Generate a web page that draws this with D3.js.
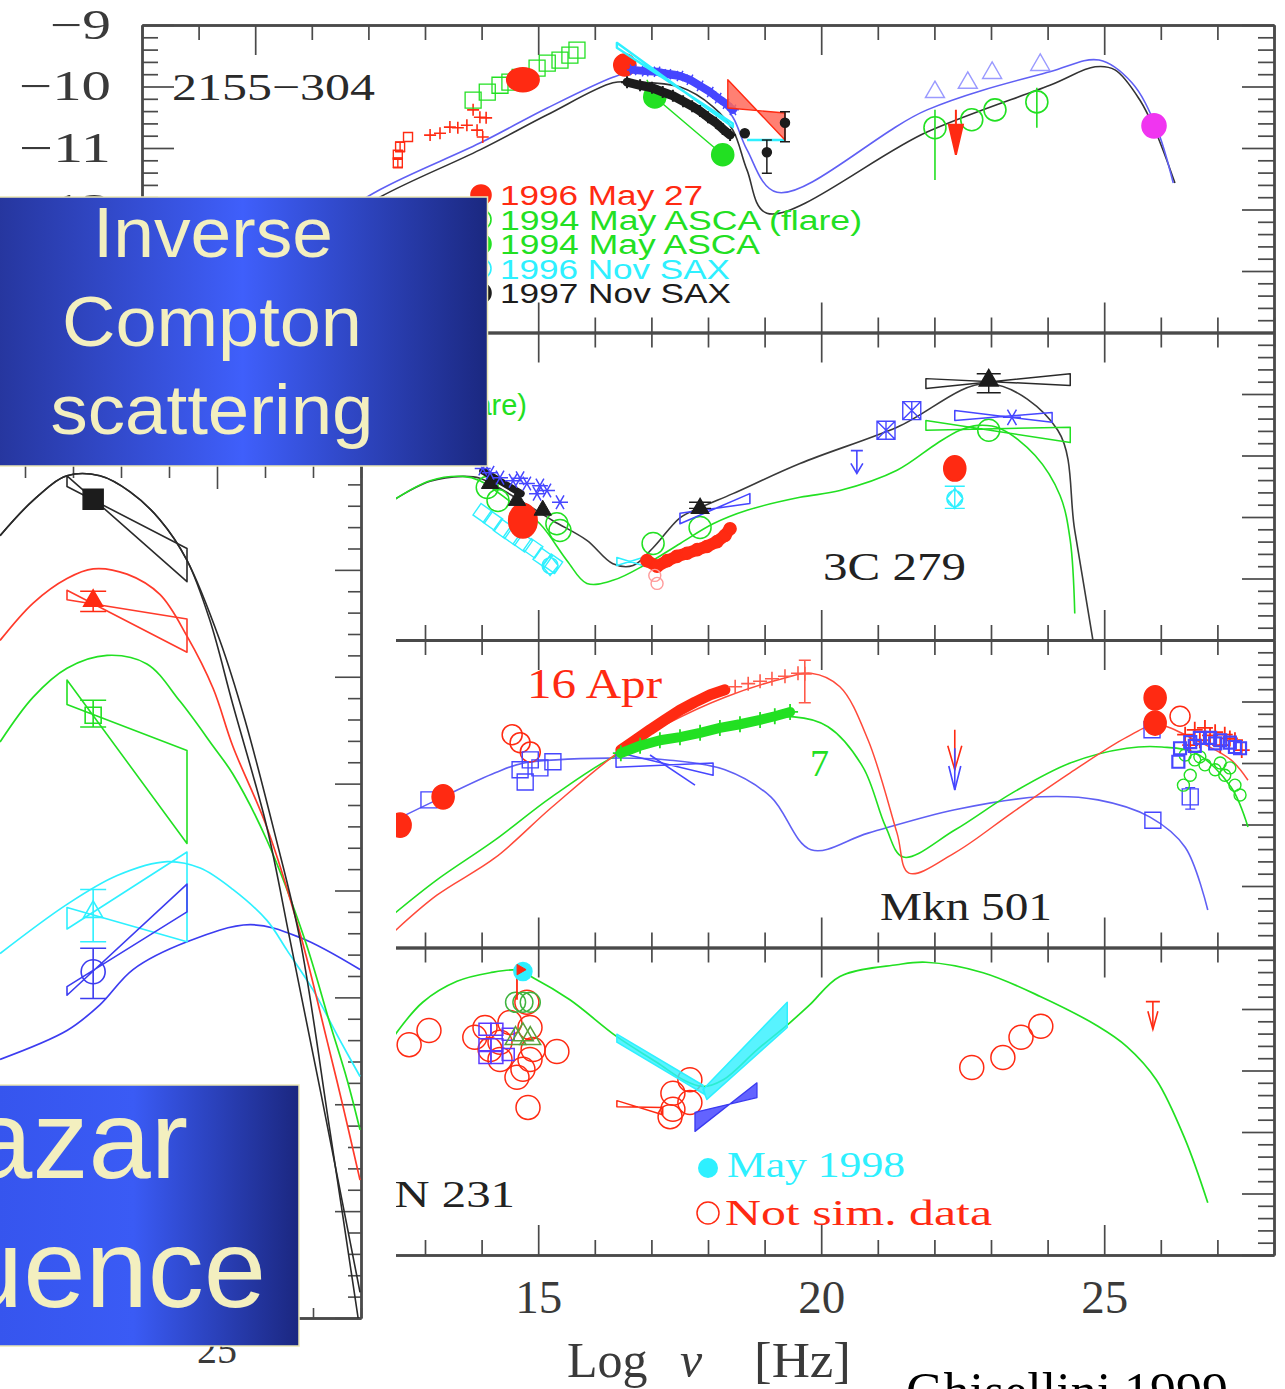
<!DOCTYPE html>
<html>
<head>
<meta charset="utf-8">
<title>Blazar SEDs – Inverse Compton scattering</title>
<script src="https://cdn.jsdelivr.net/npm/d3@7"></script>
<style>
  html, body { margin: 0; padding: 0; background: #fff; }
  svg { display: block; }
</style>
</head>
<body>
<div id="chart"></div>
<script>
// ================= DATA (log nu [Hz], log nuF_nu) =================

// ---- PKS 2155-304 ----
const pksModelHigh = [[10.79,-12.50],[12.20,-11.68],[13.97,-10.92],[15.16,-10.35],[16.32,-9.85],[16.675,-9.76],[17.51,-9.78],[18.09,-10.11],[18.44,-10.50],[18.69,-11.03],[19.22,-11.72],[21.87,-10.38],[24.04,-9.76],[24.91,-9.57],[25.49,-9.94],[25.92,-10.66],[26.22,-11.57]];
const pksModelLow = [[10.79,-12.61],[12.20,-11.80],[13.97,-11.03],[15.16,-10.46],[16.32,-9.94],[16.675,-9.93],[17.51,-10.01],[18.09,-10.33],[18.44,-10.71],[18.69,-11.36],[19.04,-12.06],[21.87,-10.74],[24.04,-9.98],[24.84,-9.68],[25.19,-9.73],[25.63,-10.22],[25.92,-10.76],[26.25,-11.57]];
const pksRedSquares = [[12.52,-11.24,-11.32,-11.16],[12.52,-11.11],[12.56,-10.98,-11.06,-10.90],[12.70,-10.82]];
const pksRedCrosses = [[13.09,-10.79],[13.265,-10.76],[13.44,-10.66],[13.58,-10.67],[13.74,-10.63],[13.92,-10.71],[14.02,-10.82],[13.85,-10.38],[13.97,-10.50],[14.08,-10.51]];
const pksGreenSquares = [[13.85,-10.22],[14.10,-10.09],[14.325,-9.98],[14.50,-9.93],[14.68,-9.85],[14.98,-9.70],[15.16,-9.62],[15.385,-9.57],[15.56,-9.49],[15.685,-9.41]];
const pksRedOptical = [[14.73,-9.89]];
const pksRedUV = [[16.53,-9.65]];
const pksCyanBow = {x0:16.39, y0:[-9.29,-9.37], x1:18.44, y1:[-10.60,-10.66]};
const pksCyanFlat = [[18.69,-10.87],[19.36,-10.87]];
const pksBlackBand = [[16.57,-9.93],[16.80,-9.98],[17.01,-10.02],[17.20,-10.09],[17.38,-10.15],[17.56,-10.24],[17.72,-10.32],[17.86,-10.40],[18.00,-10.50],[18.14,-10.59],[18.26,-10.69],[18.39,-10.79]];
const pksBlueBand = [[16.675,-9.73],[16.89,-9.75],[17.10,-9.76],[17.29,-9.80],[17.505,-9.83],[17.68,-9.89],[17.86,-9.99],[18.04,-10.09],[18.18,-10.19],[18.32,-10.28],[18.44,-10.38]];
const pksGreenAsca = [[16.92,-9.89],[17.06,-10.17],[18.26,-11.11]];
const pksRedBow = {x0:18.35, y0:[-9.89,-10.35], x1:19.36, y1:[-10.43,-10.87]};
const pksBlackSax = [[18.65,-10.76],[19.04,-11.07,-11.41,-10.87],[19.36,-10.59,-10.90,-10.41]];
const pksBlueGamma = [[22.01,-10.09],[22.59,-9.94],[23.02,-9.78],[23.87,-9.65]];
const pksGreenGamma = [[22.01,-10.67,-11.52,-10.38],[22.66,-10.54],[23.07,-10.38],[23.81,-10.25,-10.67,-10.02]];
const pksRedLimit = [[22.38,-10.38,-11.11]];
const pksTeV = [[25.88,-10.64]];
const pksLegend = ["1996 May 27","1994 May ASCA (flare)","1994 May ASCA","1996 Nov SAX","1997 Nov SAX"];
const pksYLabels = [-9,-10,-11,-12];

// ---- 3C 279 ----
const c279ModelHigh = [[12.47,-11.71],[13.09,-11.42],[13.67,-11.34],[13.97,-11.37],[14.68,-11.73],[15.26,-12.06],[15.86,-12.38],[16.32,-12.76],[16.675,-12.79],[17.03,-12.50],[17.51,-12.01],[17.86,-11.85],[18.44,-11.62],[19.625,-11.13],[21.34,-10.54],[22.96,-9.83],[24.18,-10.59],[24.48,-12.22],[24.80,-14.0]];
const c279ModelLow = [[12.47,-11.71],[13.09,-11.41],[13.67,-11.34],[13.97,-11.41],[14.55,-11.78],[15.03,-12.11],[15.51,-12.71],[15.86,-13.08],[16.32,-13.03],[16.92,-12.76],[17.51,-12.43],[18.09,-12.11],[18.69,-11.89],[19.625,-11.68],[20.33,-11.57],[21.34,-11.24],[22.05,-10.80],[22.45,-10.59],[22.77,-10.51],[23.16,-10.56],[23.78,-11.00],[24.22,-11.65],[24.40,-12.38],[24.48,-13.57]];
const c279BlueStars = [[14.02,-11.21],[14.15,-11.28],[14.325,-11.36],[14.555,-11.41],[14.68,-11.37],[14.80,-11.455],[15.03,-11.49],[15.155,-11.57],[14.98,-11.62],[15.385,-11.76]];
const c279BlackTri = [[14.15,-11.455],[14.625,-11.73],[15.08,-11.89]];
const c279GreenRings = [[14.10,-11.52],[14.29,-11.73],[15.33,-12.11],[15.385,-12.22],[17.03,-12.43],[17.86,-12.17],[22.96,-10.59]];
const c279RedOptical = [[14.73,-12.06]];
const c279CyanUV = [[14.02,-11.94],[14.20,-12.06],[14.38,-12.19],[14.555,-12.30],[14.73,-12.41],[14.91,-12.51],[15.08,-12.66],[15.26,-12.76]];
const c279CyanRing = [[15.21,-12.79]];
const c279CyanBow = {x0:16.39, y0:[-12.66,-12.79], x1:16.85, y1:[-12.66,-12.79]};
const c279RedXray = [[16.92,-12.71],[17.10,-12.80],[17.28,-12.71],[17.45,-12.64],[17.63,-12.59],[17.81,-12.53],[17.98,-12.48],[18.16,-12.40],[18.30,-12.30],[18.39,-12.19]];
const c279PinkRings = [[17.06,-12.95],[17.10,-13.08]];
const c279BlueXBow = {x0:17.505, y0:[-11.94,-12.11], x1:18.74, y1:[-11.62,-11.78]};
const c279BlackXray = [[17.86,-11.86,-11.86,-11.76]];
const c279BlueBoxes = [[21.145,-10.59],[21.60,-10.27]];
const c279BlueLimit = [[20.63,-10.92,-11.29]];
const c279BlackPeakBow = {x0:21.85, y0:[-9.75,-9.91], x1:24.40, y1:[-9.67,-9.86]};
const c279BluePeakBow = {x0:22.36, y0:[-10.27,-10.43], x1:24.08, y1:[-10.30,-10.46]};
const c279GreenPeakBow = {x0:21.85, y0:[-10.43,-10.59], x1:24.40, y1:[-10.54,-10.79]};
const c279BlackPeak = [[22.96,-9.78,-9.98,-9.67]];
const c279BluePeakStar = [[23.37,-10.38]];
const c279RedGamma = [[22.36,-11.21]];
const c279CyanGamma = [[22.36,-11.70,-11.86,-11.50]];

// ---- Mkn 501 ----
const mknModelFlare = [[12.47,-13.73],[13.21,-13.15],[14.24,-12.54],[15.24,-11.72],[16.46,-10.80],[17.28,-10.36],[18.30,-9.93],[19.31,-9.63],[19.82,-9.54],[20.33,-9.76],[20.83,-10.63],[21.34,-12.14],[21.55,-12.79],[22.36,-12.46],[23.37,-11.81],[24.40,-11.16],[25.40,-10.58],[25.92,-10.38],[26.62,-10.63],[27.24,-10.95],[27.54,-11.28]];
const mknModelHigh = [[12.47,-13.44],[13.21,-12.90],[14.24,-12.25],[15.24,-11.55],[16.46,-10.84],[17.28,-10.63],[18.30,-10.41],[19.52,-10.25],[20.12,-10.41],[20.74,-11.07],[21.14,-12.04],[21.45,-12.53],[22.36,-12.09],[23.37,-11.49],[24.40,-11.00],[25.40,-10.76],[26.02,-10.74],[26.62,-10.84],[27.24,-11.39],[27.54,-12.04]];
const mknModelLow = [[12.47,-11.93],[13.21,-11.60],[14.24,-11.16],[14.75,-11.00],[16.27,-10.92],[17.28,-10.95],[18.30,-11.11],[19.11,-11.55],[19.82,-12.41],[20.83,-12.14],[22.36,-11.76],[23.88,-11.55],[24.89,-11.60],[25.81,-11.88],[26.43,-12.37],[26.83,-13.39]];
const mknRedDots = [[12.56,-12.01],[13.32,-11.55],[25.90,-9.94],[25.90,-10.35]];
const mknBlueSquares = [[13.07,-11.60],[14.68,-11.11],[14.86,-10.95],[15.03,-11.08],[15.26,-10.98],[14.77,-11.31],[25.845,-10.46],[25.86,-11.93],[26.52,-11.55,-11.75,-11.40]];
const mknRedRings = [[14.54,-10.54],[14.68,-10.67],[14.86,-10.82],[26.34,-10.24]];
const mknRedBand = [[16.46,-10.79],[16.71,-10.63],[16.975,-10.46],[17.24,-10.30],[17.505,-10.14],[17.77,-10.01],[18.04,-9.89],[18.30,-9.81]];
const mknRedXray = [[18.48,-9.76],[18.71,-9.71],[18.92,-9.67],[19.13,-9.63],[19.36,-9.59],[19.59,-9.54],[19.71,-9.55,-10.02,-9.33]];
const mknGreenBand = [[16.46,-10.84],[16.80,-10.72],[17.15,-10.63],[17.505,-10.58],[17.86,-10.51],[18.21,-10.43],[18.565,-10.37],[18.92,-10.30],[19.18,-10.24],[19.45,-10.17]];
const mknBlueBow = {x0:16.375, y0:[-10.82,-11.07], x1:18.09, y1:[-11.00,-11.20]};
const mknBlueSlope = [[16.975,-10.87],[17.77,-11.36]];
const mknRedLimit = [[22.36,-10.46,-11.11]];
const mknBlueLimit = [[22.36,-10.76,-11.44]];
const mknRedTeV = [[26.43,-10.54],[26.60,-10.46],[26.78,-10.43],[26.96,-10.50],[27.13,-10.54],[27.31,-10.63],[27.43,-10.79],[26.52,-10.71],[26.69,-10.63],[27.05,-10.71],[26.87,-10.55],[27.22,-10.60]];
const mknBlueTeV = [[26.34,-10.76],[26.52,-10.66],[26.69,-10.59],[26.87,-10.59],[27.05,-10.63],[27.22,-10.67],[27.40,-10.76],[26.31,-10.98],[26.60,-10.72],[26.96,-10.68],[27.31,-10.74]];
const mknGreenTeV = [[26.43,-10.87],[26.60,-10.95],[26.78,-11.03],[26.96,-11.11],[27.13,-11.20],[27.31,-11.36],[26.40,-11.36],[26.52,-11.20],[27.40,-11.52],[26.69,-10.90],[27.05,-11.00],[27.22,-11.08]];

// ---- ON 231 ----
const on231Model = [[12.47,-10.42],[12.96,-9.89],[13.565,-9.55],[14.15,-9.41],[14.625,-9.37],[14.91,-9.49],[15.56,-9.85],[16.39,-10.45],[17.10,-10.87],[17.56,-11.15],[17.91,-11.26],[18.27,-11.15],[18.87,-10.66],[19.45,-10.22],[19.80,-9.93],[20.33,-9.47],[21.34,-9.28],[21.85,-9.24],[22.86,-9.41],[23.88,-9.80],[24.89,-10.28],[25.40,-10.61],[25.92,-11.15],[26.43,-12.12],[26.83,-13.15]];
const on231CyanDot = [[14.73,-9.39]];
const on231RedFlag = [[14.625,-9.44],[14.625,-9.85]];
const on231RedTop = [[14.68,-9.36]];
const on231RedRings = [[12.72,-10.58],[13.07,-10.35],[13.88,-10.46],[14.06,-10.30],[14.15,-10.66],[14.325,-10.82],[14.625,-11.11],[14.73,-10.98],[14.855,-10.82],[14.91,-10.66],[14.855,-10.30],[15.33,-10.69],[14.80,-9.89],[14.50,-10.22],[14.325,-10.54],[14.82,-11.60],[17.68,-11.15],[17.38,-11.37],[17.38,-11.63],[17.68,-11.52],[17.33,-11.75],[22.66,-10.95],[23.21,-10.79],[23.53,-10.46],[23.88,-10.28]];
const on231BlueSquares = [[14.06,-10.33],[14.27,-10.33],[14.06,-10.58],[14.27,-10.58],[14.06,-10.79],[14.27,-10.79],[14.47,-10.41],[14.47,-10.74]];
const on231GreenRings = [[14.60,-9.89],[14.73,-9.89],[14.86,-9.89]];
const on231GreenTri = [[14.60,-10.48],[14.73,-10.42],[14.86,-10.48]];
const on231CyanBand = [[16.39,-10.41],[17.91,-11.24],[17.945,-11.39],[16.39,-10.54]];
const on231CyanWedge = [[17.91,-11.31],[19.40,-9.89],[19.40,-10.30],[17.98,-11.47]];
const on231BlueBow = {x0:17.77, y0:[-11.68,-11.99], x1:18.865, y1:[-11.20,-11.44]};
const on231RedBow = {x0:16.39, y0:[-11.49,-11.59], x1:17.20, y1:[-11.60,-11.72]};
const on231RedLimit = [[25.86,-9.88,-10.33]];

// ---- Blazar sequence (Compton hump), log nu vs log nuL_nu ----
const seqBlackA = [[20.48,45.32],[21.17,45.65],[21.875,45.88],[22.56,45.88],[23.19,45.73],[23.81,45.47],[24.375,45.09],[24.85,44.53],[25.33,43.74],[26.04,42.59],[26.52,41.54],[27.17,40.09],[27.98,38.24]];
const seqBlackB = [[20.48,45.32],[21.17,45.65],[21.875,45.88],[22.56,45.88],[23.19,45.73],[23.81,45.47],[24.375,45.09],[25.06,44.34],[25.58,43.60],[26.21,42.52],[26.73,41.54],[27.35,39.76],[27.94,38.0]];
const seqRed = [[20.48,44.34],[21.17,44.69],[21.875,44.92],[22.42,45.01],[23.125,44.96],[23.81,44.77],[24.375,44.38],[24.92,43.89],[25.33,43.35],[26.04,42.59],[26.73,41.60],[27.29,40.60],[27.625,39.98],[27.98,39.29]];
const seqGreen = [[20.48,43.39],[21.17,43.81],[21.875,44.08],[22.71,44.20],[23.54,44.12],[24.23,43.77],[24.92,43.35],[25.33,43.09],[26.04,42.47],[26.83,41.54],[27.35,40.76],[27.71,40.23],[27.98,39.76]];
const seqCyan = [[20.48,41.41],[21.875,41.87],[22.92,42.14],[23.96,42.27],[24.65,42.21],[25.33,42.01],[26.04,41.72],[26.46,41.44],[27.0,41.07],[27.56,40.60],[27.98,40.26]];
const seqBlue = [[20.48,40.42],[21.875,40.69],[22.56,40.93],[23.25,41.26],[24.375,41.52],[25.69,41.68],[26.73,41.56],[27.98,41.26]];
// average points with error bars [x, y, lo, hi]
const seqPtBlack = [[22.42,45.66]];
const seqPtRed = [[22.42,44.71,44.61,44.80]];
const seqPtGreen = [[22.42,43.64,43.53,43.78]];
const seqPtCyan = [[22.42,41.80,41.52,42.01]];
const seqPtBlue = [[22.42,41.24,40.99,41.46]];
const seqBowBlack = {x0:21.875, y0:[45.88,45.78], x1:24.375, y1:[45.20,44.89]};
const seqBowRed = {x0:21.875, y0:[44.81,44.72], x1:24.375, y1:[44.54,44.23]};
const seqBowGreen = {x0:21.875, y0:[43.97,43.74], x1:24.375, y1:[43.31,42.44]};
const seqBowCyan = {x0:21.875, y0:[41.84,41.64], x1:24.375, y1:[42.36,41.52]};
const seqBowBlue = {x0:21.875, y0:[41.10,41.02], x1:24.375, y1:[42.06,41.80]};

const xTickLabels = [15, 20, 25];

// ================= DRAWING =================
const W = 1285, H = 1389;
const COL = {red:"#ff2a12", green:"#22e022", cyan:"#2ef0ff", blue:"#4646ff", model:"#6060f4",
             black:"#1c1c1c", magenta:"#f035f0", axis:"#4a4a4a", pink:"#ff9a9a"};
const SANS = "'Liberation Sans', Arial, Helvetica, sans-serif";
const SERIF = "'Liberation Serif', 'Times New Roman', 'DejaVu Serif', serif";

const svg = d3.select("#chart").append("svg").attr("width", W).attr("height", H)
  .attr("viewBox", `0 0 ${W} ${H}`);
const defs = svg.append("defs");

// right-hand stack of four SED panels
const x = d3.scaleLinear().domain([8, 28]).range([142, 1274]);
const PH = 307.5;
const panelTop = [25, 332.5, 640, 947.5];
const ys = panelTop.map(t => d3.scaleLinear().domain([-14, -9]).range([t + PH, t]));
const CUT = 396;

panelTop.forEach((t, i) => {
  const x0 = i === 0 ? 142 : CUT;
  defs.append("clipPath").attr("id", `plot${i}`).append("rect")
    .attr("x", x0).attr("y", t).attr("width", 1274 - x0).attr("height", PH);
});
defs.append("clipPath").attr("id", "frameCut").append("rect")
  .attr("x", CUT).attr("y", 0).attr("width", W).attr("height", H);

// ---------- helpers ----------
function sym(type, r) {
  switch (type) {
    case "circle": return d3.symbol(d3.symbolCircle, Math.PI * r * r)();
    case "square": return d3.symbol(d3.symbolSquare, 4 * r * r)();
    case "triangle": return d3.symbol(d3.symbolTriangle, 1.3 * r * r)();
    case "plus": return `M${-r},0H${r}M0,${-r}V${r}`;
    case "times": { const k = r * 0.72; return `M${-k},${-k}L${k},${k}M${-k},${k}L${k},${-k}`; }
    case "star": { const k = r * 0.866; return `M${-r},0H${r}M${-r/2},${-k}L${r/2},${k}M${-r/2},${k}L${r/2},${-k}`; }
    case "boxx": { return `M${-r},${-r}H${r}V${r}H${-r}ZM${-r},${-r}L${r},${r}M${-r},${r}L${r},${-r}M0,${-r}V${r}`; }
    case "ringdiamond": { return d3.symbol(d3.symbolCircle, Math.PI * r * r)() + `M0,${-r*1.25}L${r},0L0,${r*1.25}L${-r},0Z`; }
  }
}
function lineGen(sx, sy, smooth) {
  const l = d3.line().x(d => sx(d[0])).y(d => sy(d[1]));
  return smooth ? l.curve(d3.curveCatmullRom.alpha(0.5)) : l;
}
function curve(g, data, sx, sy, color, w) {
  g.append("path").datum(data).attr("d", lineGen(sx, sy, true))
    .attr("fill", "none").attr("stroke", color).attr("stroke-width", w || 1.6)
    .attr("stroke-linejoin", "round");
}
function polyline(g, data, sx, sy, color, w) {
  g.append("path").datum(data).attr("d", lineGen(sx, sy, false))
    .attr("fill", "none").attr("stroke", color).attr("stroke-width", w || 1.5);
}
function band(g, data, sx, sy, color, w) {
  g.append("path").datum(data).attr("d", lineGen(sx, sy, false))
    .attr("fill", "none").attr("stroke", color).attr("stroke-width", w)
    .attr("stroke-linecap", "round").attr("stroke-linejoin", "round");
}
function polygon(g, pts, sx, sy, o) {
  g.append("path").datum(pts).attr("d", d => lineGen(sx, sy, false)(d) + "Z")
    .attr("fill", o.fill || "none").attr("fill-opacity", o.fillOpacity ?? 1)
    .attr("stroke", o.color).attr("stroke-width", o.width || 1.5).attr("stroke-linejoin", "round");
}
function bowtie(g, b, sx, sy, o) {
  polygon(g, [[b.x0, b.y0[0]], [b.x1, b.y1[1]], [b.x1, b.y1[0]], [b.x0, b.y0[1]]], sx, sy, o);
}
function marks(g, data, sx, sy, o) {
  const w = o.width || 1.6;
  const grp = g.append("g").attr("stroke", o.color).attr("stroke-width", w)
    .attr("fill", o.fill ? o.color : "none").attr("stroke-linecap", "butt");
  grp.selectAll("path.err").data(data.filter(d => d.length >= 4)).join("path")
    .attr("class", "err").attr("fill", "none")
    .attr("d", d => {
      const px = sx(d[0]), a = sy(d[2]), b = sy(d[3]), c = o.cap || 0;
      return `M${px},${a}V${b}` + (c ? `M${px - c},${a}h${2 * c}M${px - c},${b}h${2 * c}` : "");
    });
  const sc = o.scale ? ` scale(${o.scale[0]},${o.scale[1]})` : "";
  grp.selectAll("path.mk").data(data).join("path").attr("class", "mk")
    .attr("transform", d => `translate(${sx(d[0])},${sy(d[1])})${o.rotate ? ` rotate(${o.rotate})` : ""}${sc}`)
    .attr("vector-effect", o.scale ? "non-scaling-stroke" : null)
    .attr("d", sym(o.shape, o.r));
}
function limits(g, data, sx, sy, o) {
  const grp = g.append("g").attr("stroke", o.color).attr("stroke-width", o.width || 1.8);
  grp.selectAll("path.shaft").data(data).join("path").attr("class", "shaft").attr("fill", "none")
    .attr("d", d => {
      const px = sx(d[0]), y0 = sy(d[1]), y1 = sy(d[2]);
      return `M${px},${y0}V${y1}` + (o.cap ? `M${px - o.cap},${y0}h${2 * o.cap}` : "");
    });
  grp.selectAll("path.head").data(data).join("path").attr("class", "head")
    .attr("fill", o.filled ? o.color : "none")
    .attr("d", d => {
      const px = sx(d[0]), y1 = sy(d[2]);
      return `M${px - o.hw},${y1 - o.hl}L${px},${y1}L${px + o.hw},${y1 - o.hl}` + (o.filled ? "Z" : "");
    });
}
function label(g, txt, px, py, o) {
  const t = g.append("text").attr("x", px).attr("y", py).text(txt)
    .attr("font-family", o.font || SERIF).attr("font-size", o.size).attr("fill", o.color || "#222")
    .attr("text-anchor", o.anchor || "start");
  if (o.len) t.attr("textLength", o.len).attr("lengthAdjust", "spacingAndGlyphs");
  if (o.italic) t.attr("font-style", "italic");
  return t;
}

// ---------- frames ----------
const xMajor = [10, 15, 20, 25];
const xMinor = d3.range(8, 29).filter(v => !xMajor.includes(v));
function drawFrame(i) {
  const t = panelTop[i], y = ys[i];
  const g = svg.append("g").attr("clip-path", i === 0 ? null : "url(#frameCut)");
  const yMajor = y.ticks(5);
  const yMinor = y.ticks(25).filter(v => Math.abs(v - Math.round(v)) > 1e-6);
  const add = (axis, tr, vals, len) => {
    const a = g.append("g").attr("transform", tr)
      .call(axis.tickValues(vals).tickSizeInner(-len).tickSizeOuter(0).tickFormat(""));
    a.selectAll("text").remove();
    a.selectAll("line").attr("stroke", COL.axis).attr("stroke-width", 1.7);
    a.select(".domain").attr("stroke", COL.axis).attr("stroke-width", 2.4);
  };
  add(d3.axisTop(x), `translate(0,${t})`, xMajor, 30);
  add(d3.axisTop(x), `translate(0,${t})`, xMinor, 15);
  add(d3.axisBottom(x), `translate(0,${t + PH})`, xMajor, 30);
  add(d3.axisBottom(x), `translate(0,${t + PH})`, xMinor, 15);
  add(d3.axisRight(y), `translate(1274,0)`, yMajor, 32);
  add(d3.axisRight(y), `translate(1274,0)`, yMinor, 16);
  if (i === 0) {
    add(d3.axisLeft(y), `translate(142,0)`, yMajor, 32);
    add(d3.axisLeft(y), `translate(142,0)`, yMinor, 16);
  }
}
[0, 1, 2, 3].forEach(drawFrame);

// ---------- panel 1 : PKS 2155-304 ----------
{
  const sy = ys[0];
  const g = svg.append("g").attr("clip-path", "url(#plot0)");
  curve(g, pksModelLow, x, sy, "#333", 1.6);
  curve(g, pksModelHigh, x, sy, COL.model, 1.6);
  marks(g, pksRedSquares, x, sy, {shape:"square", r:4.5, color:COL.red, width:1.4, cap:5});
  marks(g, pksRedCrosses, x, sy, {shape:"plus", r:6, color:COL.red, width:1.6});
  marks(g, pksGreenSquares, x, sy, {shape:"square", r:8, color:COL.green, width:1.3});
  marks(g, pksRedOptical, x, sy, {shape:"circle", r:12, color:COL.red, fill:true, width:0, scale:[1.35,1]});
  marks(g, pksRedUV, x, sy, {shape:"circle", r:11, color:COL.red, fill:true, width:0});
  polyline(g, pksGreenAsca, x, sy, COL.green, 1.4);
  marks(g, pksGreenAsca.slice(1), x, sy, {shape:"circle", r:11, color:COL.green, fill:true, width:0});
  band(g, pksBlackBand, x, sy, COL.black, 9);
  marks(g, pksBlackBand, x, sy, {shape:"plus", r:6, color:COL.black, width:2});
  band(g, pksBlueBand, x, sy, COL.blue, 8);
  marks(g, pksBlueBand, x, sy, {shape:"star", r:6, color:COL.blue, width:1.5});
  bowtie(g, pksCyanBow, x, sy, {color:COL.cyan, width:2.4});
  polyline(g, pksCyanFlat, x, sy, COL.cyan, 2.4);
  bowtie(g, pksRedBow, x, sy, {color:COL.red, width:1.4, fill:"#ff6a5a", fillOpacity:0.85});
  marks(g, pksBlackSax, x, sy, {shape:"circle", r:4.5, color:COL.black, fill:true, width:1.5, cap:5});
  marks(g, pksBlueGamma, x, sy, {shape:"triangle", r:11, color:"#9a9aff", width:1.4});
  marks(g, pksGreenGamma, x, sy, {shape:"circle", r:11, color:COL.green, width:1.6});
  limits(g, pksRedLimit, x, sy, {color:COL.red, width:2, hw:7, hl:30, filled:true});
  marks(g, pksTeV, x, sy, {shape:"circle", r:12, color:COL.magenta, fill:true, width:0});

  // legend
  const legendColors = [COL.red, COL.green, COL.green, COL.cyan, COL.black];
  const legendWidths = [203, 362, 260, 230, 231];
  const legendFilled = [true, false, true, false, true];
  pksLegend.forEach((txt, i) => {
    const by = 205 + i * 24.5;
    g.append("path").attr("d", sym("circle", 10)).attr("transform", `translate(481,${by - 10})`)
      .attr("fill", legendFilled[i] ? legendColors[i] : "none").attr("stroke", legendColors[i]).attr("stroke-width", 1.6);
    label(g, txt, 500, by, {font:SANS, size:27, color:legendColors[i], len:legendWidths[i]});
  });
  label(g, "2155\u2212304", 172, 100, {size:38, color:"#2a2a2a", len:203});
}
// y labels of the top panel
svg.append("g").attr("transform", "translate(142,0)")
  .call(d3.axisLeft(ys[0]).tickValues(pksYLabels).tickSize(0).tickPadding(31)
        .tickFormat(d => "\u2212" + Math.abs(d)))
  .call(a => a.select(".domain").remove())
  .selectAll("text").attr("font-family", SERIF).attr("font-size", 42).attr("fill", "#3a3a3a")
  .attr("textLength", d => d > -10 ? 61 : 92).attr("lengthAdjust", "spacingAndGlyphs");

// ---------- panel 2 : 3C 279 ----------
{
  const sy = ys[1];
  const g = svg.append("g").attr("clip-path", "url(#plot1)");
  curve(g, c279ModelHigh, x, sy, "#3a3a3a", 1.6);
  curve(g, c279ModelLow, x, sy, COL.green, 1.6);
  marks(g, c279CyanUV, x, sy, {shape:"square", r:7, color:COL.cyan, width:1.4, rotate:35});
  marks(g, c279CyanRing, x, sy, {shape:"ringdiamond", r:8, color:COL.cyan, width:1.4});
  marks(g, c279RedOptical, x, sy, {shape:"circle", r:15, color:COL.red, fill:true, width:0, scale:[0.95,1.15]});
  marks(g, c279GreenRings, x, sy, {shape:"circle", r:11, color:COL.green, width:1.5});
  band(g, [[14.02,-11.25],[14.70,-11.62]], x, sy, COL.black, 7);
  marks(g, c279BlackTri, x, sy, {shape:"triangle", r:10, color:COL.black, fill:true, width:1});
  marks(g, c279BlueStars, x, sy, {shape:"star", r:8, color:COL.blue, width:1.5});
  bowtie(g, c279CyanBow, x, sy, {color:COL.cyan, width:1.6});
  band(g, c279RedXray, x, sy, COL.red, 12);
  marks(g, c279RedXray, x, sy, {shape:"circle", r:6, color:COL.red, fill:true, width:0});
  marks(g, c279PinkRings, x, sy, {shape:"circle", r:6, color:COL.pink, width:1.4});
  bowtie(g, c279BlueXBow, x, sy, {color:COL.blue, width:1.6});
  marks(g, c279BlackXray, x, sy, {shape:"triangle", r:10, color:COL.black, fill:true, width:1.4, cap:11});
  marks(g, c279BlueBoxes, x, sy, {shape:"boxx", r:9, color:COL.blue, width:1.4});
  limits(g, c279BlueLimit, x, sy, {color:COL.blue, width:1.6, hw:6, hl:10, cap:6});
  bowtie(g, c279GreenPeakBow, x, sy, {color:COL.green, width:1.5});
  bowtie(g, c279BluePeakBow, x, sy, {color:COL.blue, width:1.5});
  marks(g, c279BluePeakStar, x, sy, {shape:"star", r:9, color:COL.blue, width:1.5});
  bowtie(g, c279BlackPeakBow, x, sy, {color:"#2a2a2a", width:1.5});
  marks(g, c279BlackPeak, x, sy, {shape:"triangle", r:11, color:COL.black, fill:true, width:1.4, cap:12});
  marks(g, c279RedGamma, x, sy, {shape:"circle", r:11, color:COL.red, fill:true, width:0, scale:[1,1.15]});
  marks(g, c279CyanGamma, x, sy, {shape:"ringdiamond", r:8, color:COL.cyan, width:1.4, cap:10});
  label(g, "3C 279", 823, 580, {size:40, color:"#222", len:143});
  label(g, "(flare)", 527, 415, {font:SANS, size:29, color:COL.green, anchor:"end"});
}

// ---------- panel 3 : Mkn 501 ----------
{
  const sy = ys[2];
  const g = svg.append("g").attr("clip-path", "url(#plot2)");
  curve(g, mknModelLow, x, sy, COL.model, 1.6);
  curve(g, mknModelHigh, x, sy, COL.green, 1.6);
  curve(g, mknModelFlare, x, sy, "#ff4a3a", 1.5);
  marks(g, mknRedRings, x, sy, {shape:"circle", r:10, color:COL.red, width:1.5});
  marks(g, mknBlueSquares, x, sy, {shape:"square", r:8, color:COL.blue, width:1.4, cap:5});
  marks(g, mknRedDots, x, sy, {shape:"circle", r:11, color:COL.red, fill:true, width:0, scale:[1,1.1]});
  bowtie(g, mknBlueBow, x, sy, {color:COL.blue, width:1.5});
  polyline(g, mknBlueSlope, x, sy, COL.blue, 1.6);
  band(g, mknRedBand, x, sy, COL.red, 11);
  marks(g, mknRedXray, x, sy, {shape:"plus", r:7, color:"#ff5a4a", width:1.6, cap:6});
  band(g, mknGreenBand, x, sy, COL.green, 10);
  marks(g, mknGreenBand, x, sy, {shape:"plus", r:8, color:COL.green, width:1.8});
  limits(g, mknRedLimit, x, sy, {color:COL.red, width:1.6, hw:7, hl:24});
  limits(g, mknBlueLimit, x, sy, {color:COL.blue, width:1.6, hw:6, hl:24});
  marks(g, mknGreenTeV, x, sy, {shape:"circle", r:6, color:COL.green, width:1.4});
  marks(g, mknRedTeV, x, sy, {shape:"plus", r:8, color:COL.red, width:1.8});
  marks(g, mknBlueTeV, x, sy, {shape:"square", r:6, color:COL.blue, width:2.2});
  label(g, "16 Apr", 527, 698, {size:42, color:COL.red, len:135});
  label(g, "7", 810, 776, {size:38, color:COL.green});
  label(g, "Mkn 501", 880, 920, {size:40, color:"#222", len:172});
}

// ---------- panel 4 : ON 231 ----------
{
  const sy = ys[3];
  const g = svg.append("g").attr("clip-path", "url(#plot3)");
  curve(g, on231Model, x, sy, COL.green, 1.7);
  marks(g, on231RedRings, x, sy, {shape:"circle", r:12, color:COL.red, width:1.5});
  marks(g, on231BlueSquares, x, sy, {shape:"square", r:6, color:"#5a3aff", width:1.5});
  marks(g, on231GreenRings, x, sy, {shape:"circle", r:10, color:"#3fb43f", width:1.5});
  marks(g, on231GreenTri, x, sy, {shape:"triangle", r:12, color:"#5aa03a", width:1.5});
  polyline(g, on231RedFlag, x, sy, COL.red, 1.8);
  marks(g, on231CyanDot, x, sy, {shape:"circle", r:9, color:COL.cyan, fill:true, width:0});
  marks(g, on231RedTop, x, sy, {shape:"triangle", r:6, color:COL.red, fill:true, width:1, rotate:90});
  polygon(g, on231CyanBand, x, sy, {color:COL.cyan, width:1.5, fill:COL.cyan, fillOpacity:0.8});
  polygon(g, on231CyanWedge, x, sy, {color:COL.cyan, width:1.5, fill:COL.cyan, fillOpacity:0.8});
  bowtie(g, on231RedBow, x, sy, {color:COL.red, width:1.5});
  bowtie(g, on231BlueBow, x, sy, {color:"#3a3af0", width:1.3, fill:"#4848ff", fillOpacity:0.85});
  limits(g, on231RedLimit, x, sy, {color:COL.red, width:1.6, hw:5, hl:18, cap:7});
  // legend
  g.append("path").attr("d", sym("circle", 10)).attr("transform", "translate(708,1168)").attr("fill", COL.cyan);
  label(g, "May 1998", 727, 1177, {size:36, color:COL.cyan, len:178});
  g.append("path").attr("d", sym("circle", 11)).attr("transform", "translate(708,1213)")
    .attr("fill", "none").attr("stroke", COL.red).attr("stroke-width", 1.5);
  label(g, "Not sim. data", 725, 1225, {size:36, color:COL.red, len:267});
  // source name; its first letter falls behind the left cut of the panel
  label(g, "ON 231", 359, 1207, {size:38, color:"#222", len:156});
}

// ---------- bottom axis labels ----------
svg.append("g").attr("transform", `translate(0,${panelTop[3] + PH})`)
  .call(d3.axisBottom(x).tickValues(xTickLabels).tickSize(0).tickFormat(d3.format("d")))
  .call(a => a.select(".domain").remove())
  .selectAll("text").attr("dy", null).attr("y", 1313 - (panelTop[3] + PH))
  .attr("font-family", SERIF).attr("font-size", 47).attr("fill", "#3a3a3a");
label(svg, "Log", 567, 1377, {size:50, color:"#3a3a3a"});
label(svg, "\u03bd", 680, 1377, {size:50, color:"#3a3a3a", italic:true});
label(svg, "[Hz]", 754, 1377, {size:50, color:"#3a3a3a", len:97});
label(svg, "Ghisellini 1999", 906, 1409, {size:52, color:"#000"});

// ---------- left: blazar sequence Compton hump ----------
{
  const lx = d3.scaleLinear().domain([20, 28]).range([-23, 361]);
  const ly = d3.scaleLinear().domain([38, 46]).range([1318, 463]);
  defs.append("clipPath").attr("id", "seqClip").append("rect")
    .attr("x", 0).attr("y", 463).attr("width", 361).attr("height", 855);
  const fr = svg.append("g");
  const add = (axis, tr, vals, len) => {
    const a = fr.append("g").attr("transform", tr)
      .call(axis.tickValues(vals).tickSizeInner(-len).tickSizeOuter(0).tickFormat(""));
    a.selectAll("text").remove();
    a.selectAll("line").attr("stroke", COL.axis).attr("stroke-width", 1.6);
    a.select(".domain").attr("stroke", COL.axis).attr("stroke-width", 2.4);
  };
  const yMaj = ly.ticks(8), yMin = ly.ticks(40).filter(v => Math.abs(v - Math.round(v)) > 1e-6);
  const xMaj = [25], xMin = d3.range(21, 29).filter(v => v !== 25);
  add(d3.axisRight(ly), "translate(361,0)", yMaj, 26);
  add(d3.axisRight(ly), "translate(361,0)", yMin, 13);
  add(d3.axisTop(lx), "translate(0,463)", xMaj, 26);
  add(d3.axisTop(lx), "translate(0,463)", xMin, 15);
  add(d3.axisBottom(lx), "translate(0,1318)", xMaj, 22);
  add(d3.axisBottom(lx), "translate(0,1318)", xMin, 10);
  label(svg, "25", 217, 1363, {size:40, color:"#3a3a3a", anchor:"middle"});

  const g = svg.append("g").attr("clip-path", "url(#seqClip)");
  curve(g, seqBlue, lx, ly, "#3c3cf0", 1.7);
  curve(g, seqCyan, lx, ly, COL.cyan, 1.7);
  curve(g, seqGreen, lx, ly, COL.green, 1.7);
  curve(g, seqRed, lx, ly, "#ff3a2a", 1.7);
  curve(g, seqBlackA, lx, ly, "#2a2a2a", 1.6);
  curve(g, seqBlackB, lx, ly, "#2a2a2a", 1.6);
  bowtie(g, seqBowBlack, lx, ly, {color:"#2a2a2a", width:1.6});
  bowtie(g, seqBowRed, lx, ly, {color:"#ff3a2a", width:1.6});
  bowtie(g, seqBowGreen, lx, ly, {color:COL.green, width:1.6});
  bowtie(g, seqBowCyan, lx, ly, {color:COL.cyan, width:1.6});
  bowtie(g, seqBowBlue, lx, ly, {color:"#3c3cf0", width:1.6});
  marks(g, seqPtBlack, lx, ly, {shape:"square", r:10, color:COL.black, fill:true, width:1.5});
  marks(g, seqPtRed, lx, ly, {shape:"triangle", r:11, color:COL.red, fill:true, width:1.5, cap:13});
  marks(g, seqPtGreen, lx, ly, {shape:"square", r:8, color:COL.green, width:1.6, cap:13});
  marks(g, seqPtCyan, lx, ly, {shape:"triangle", r:11, color:COL.cyan, width:1.6, cap:13});
  marks(g, seqPtBlue, lx, ly, {shape:"circle", r:12, color:"#3c3cf0", width:1.6, cap:13});
}

// ---------- title boxes ----------
const grad1 = defs.append("linearGradient").attr("id", "boxGrad1").attr("x1", 0).attr("x2", 1).attr("y1", 0).attr("y2", 0);
[[0, "#26369e"], [0.5, "#3f5ffb"], [1, "#1b2880"]].forEach(([o, c]) => grad1.append("stop").attr("offset", o).attr("stop-color", c));
const grad2 = defs.append("linearGradient").attr("id", "boxGrad2").attr("x1", 0).attr("x2", 1).attr("y1", 0).attr("y2", 0);
[[0, "#3655ee"], [0.45, "#3a5bf5"], [1, "#1b2780"]].forEach(([o, c]) => grad2.append("stop").attr("offset", o).attr("stop-color", c));

const TXT = "#f3efbf";
svg.append("rect").attr("x", -2).attr("y", 197).attr("width", 489.5).attr("height", 269)
  .attr("fill", "url(#boxGrad1)").attr("stroke", "#ebe7b5").attr("stroke-width", 1.5);
label(svg, "Inverse", 213, 257, {font:SANS, size:70, color:TXT, anchor:"middle", len:240});
label(svg, "Compton", 212, 346, {font:SANS, size:70, color:TXT, anchor:"middle", len:300});
label(svg, "scattering", 212, 434, {font:SANS, size:70, color:TXT, anchor:"middle", len:323});

svg.append("rect").attr("x", -2).attr("y", 1085).attr("width", 301).attr("height", 261)
  .attr("fill", "url(#boxGrad2)").attr("stroke", "#ebe7b5").attr("stroke-width", 1.5);
label(svg, "Blazar", 188, 1178, {font:SANS, size:112, color:TXT, anchor:"end"});
label(svg, "Sequence", 266, 1307, {font:SANS, size:112, color:TXT, anchor:"end"});
</script>
</body>
</html>
